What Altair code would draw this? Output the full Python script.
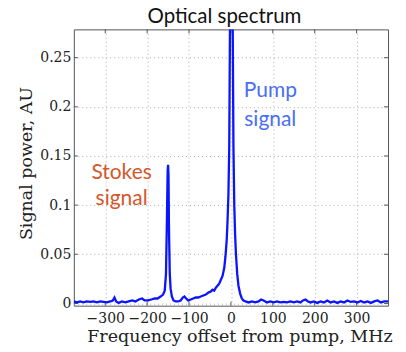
import altair as alt
import pandas as pd

freq = [-375, -368, -360, -352, -344, -336, -328, -320, -312, -304, -296, -288, -282, -278, -274,
        -268, -260, -252, -244, -236, -228, -220, -212, -206, -198, -190, -182, -175, -168, -162,
        -158, -155, -153, -151, -150, -149, -148, -146, -144, -141, -137, -132, -126, -120, -115,
        -111, -107, -102, -96, -90, -84, -78, -72, -66, -60, -54, -48, -44, -40, -36, -32, -28,
        -24, -20, -16, -13, -10, -8, -6, -4, -2, 0, 2, 4, 6, 8, 10, 12, 15, 18, 22, 26, 30, 35,
        42, 50, 58, 66, 72, 78, 86, 94, 102, 110, 118, 126, 134, 142, 150, 158, 166, 172, 178,
        184, 190, 198, 206, 214, 222, 230, 238, 246, 254, 262, 270, 278, 286, 294, 302, 310, 318,
        326, 334, 342, 350, 358, 366, 375]
power = [0.002, 0.001, 0.002, 0.001, 0.002, 0.0015, 0.002, 0.001, 0.002, 0.0015, 0.001, 0.002, 0.003, 0.006, 0.002,
         0.0005, 0.002, 0.001, 0.002, 0.003, 0.002, 0.004, 0.005, 0.003, 0.003, 0.004, 0.005, 0.005, 0.007, 0.009,
         0.013, 0.03, 0.08, 0.135, 0.141, 0.13, 0.08, 0.03, 0.015, 0.007, 0.003, 0.002, 0.002, 0.003, 0.006,
         0.007, 0.005, 0.003, 0.004, 0.005, 0.006, 0.006, 0.007, 0.008, 0.009, 0.011, 0.012, 0.014, 0.013, 0.016, 0.018, 0.02,
         0.024, 0.028, 0.036, 0.048, 0.065, 0.085, 0.11, 0.16, 0.3, 0.6, 0.6, 0.3, 0.16, 0.1, 0.07, 0.05, 0.03, 0.018, 0.01, 0.005, 0.003, 0.002,
         0.001, 0.002, 0.001, 0.002, 0.004, 0.003, 0.001, 0.002, 0.001, 0.002, 0.001, 0.0015, 0.001, 0.002, 0.001, 0.002, 0.001, 0.003, 0.004,
         0.002, 0.001, 0.002, 0.0005, 0.002, 0.001, 0.003, 0.001, 0.002, 0.0005, 0.002, 0.001, 0.003, 0.0015, 0.002, 0.001, 0.0025, 0.001,
         0.002, 0.0005, 0.002, 0.003, 0.001, 0.002, 0.002]

ann_text = ["Stokes", "signal", "Pump", "signal"]
ann_freq = [-261, -261, 94, 94]
ann_power = [0.127, 0.100, 0.2097, 0.181]
ann_color = ["#d4572a", "#d4572a", "#4a6ef8", "#4a6ef8"]

title_text = "Optical spectrum"

x_ticks = [-300, -200, -100, 0, 100, 200, 300]
y_ticks = [0, 0.05, 0.1, 0.15, 0.2, 0.25]

df = pd.DataFrame({"freq": freq, "power": power})
ann = pd.DataFrame({"text": ann_text, "freq": ann_freq, "power": ann_power, "color": ann_color})
xt = pd.DataFrame({"freq": x_ticks})
yt = pd.DataFrame({"power": y_ticks})

xs = alt.Scale(domain=[-375, 375], nice=False, zero=False)
ys = alt.Scale(domain=[-0.0023, 0.2788], nice=False, zero=False)

SERIF = "DejaVu Serif"
W, H = 315, 277

line = alt.Chart(df).mark_line(color="#0a14ff", strokeWidth=2.3, clip=True).encode(
    x=alt.X("freq:Q", scale=xs,
            axis=alt.Axis(values=x_ticks, title="Frequency offset from pump, MHz", format="d",
                          labelFont=SERIF, labelFontSize=14, labelColor="#222",
                          titleFont=SERIF, titleFontSize=17.5, titleFontWeight="normal",
                          titleColor="#222", titleX=166, titleY=36, titleBaseline="alphabetic",
                          labelPadding=6, ticks=False, domain=False,
                          grid=True, gridDash=[1, 3], gridColor="#b0b0b0")),
    y=alt.Y("power:Q", scale=ys,
            axis=alt.Axis(values=y_ticks, title="Signal power, AU", format="~f",
                          labelFont=SERIF, labelFontSize=14, labelColor="#222",
                          titleFont=SERIF, titleFontSize=17.5, titleFontWeight="normal",
                          titleColor="#222", titleX=-47, titleY=134, titleBaseline="middle",
                          titleAngle=-90, labelPadding=3, ticks=False, domain=False,
                          grid=True, gridDash=[1, 3], gridColor="#b0b0b0")),
)

tick_style = dict(color="#555", strokeWidth=1)
xt_bot = alt.Chart(xt).mark_rule(**tick_style).encode(
    x=alt.X("freq:Q", scale=xs), y=alt.value(H), y2=alt.value(H - 4))
xt_top = alt.Chart(xt).mark_rule(**tick_style).encode(
    x=alt.X("freq:Q", scale=xs), y=alt.value(0), y2=alt.value(4))
yt_left = alt.Chart(yt).mark_rule(**tick_style).encode(
    y=alt.Y("power:Q", scale=ys), x=alt.value(0), x2=alt.value(4))
yt_right = alt.Chart(yt).mark_rule(**tick_style).encode(
    y=alt.Y("power:Q", scale=ys), x=alt.value(W), x2=alt.value(W - 4))

text = alt.Chart(ann).mark_text(font="Lato", fontSize=21, align="center", baseline="alphabetic").encode(
    x=alt.X("freq:Q", scale=xs),
    y=alt.Y("power:Q", scale=ys),
    text="text:N",
    color=alt.Color("color:N", scale=None),
)

title = alt.Chart(pd.DataFrame({"t": [title_text]})).mark_text(
    font="Lato", fontSize=20.5, align="center", baseline="alphabetic", color="#111"
).encode(x=alt.value(151), y=alt.value(-6), text="t:N")

chart = alt.layer(xt_bot, xt_top, yt_left, yt_right, line, text, title).properties(
    width=W, height=H,
    autosize=alt.AutoSizeParams(type="none"),
    padding={"left": 66, "top": 21, "right": 10, "bottom": 40},
).configure_view(stroke="#555", strokeWidth=1)

chart.save("out.html", embed_options={"renderer": "svg", "actions": False})
